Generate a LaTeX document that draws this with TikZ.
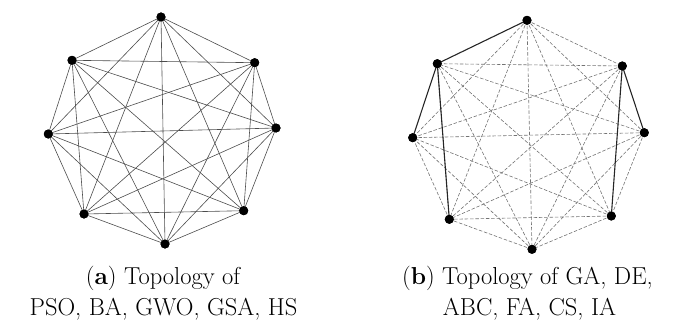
\documentclass[tikz,border=0pt]{standalone}
\begin{document}
\begin{tikzpicture}[x=1pt,y=-1pt,
  dot/.style={circle,fill=black,inner sep=0pt,minimum size=9pt},
  edge/.style={draw=black!70,line width=0.6pt},
  dedge/.style={draw=black!55,line width=0.6pt,dash pattern=on 3.5pt off 1.8pt},
  sedge/.style={draw=black!85,line width=1.1pt},
  captxt/.style={font=\fontsize{24.5}{30}\selectfont,anchor=base,inner sep=0pt}]
\useasboundingbox (0,0) rectangle (676,326);
% left graph
\node[dot] (a1) at (161,17) {};
\node[dot] (a2) at (254.7,62.7) {};
\node[dot] (a3) at (276,128) {};
\node[dot] (a4) at (243.7,210.7) {};
\node[dot] (a5) at (165,244) {};
\node[dot] (a6) at (84,214) {};
\node[dot] (a7) at (48.3,134) {};
\node[dot] (a8) at (72,60.3) {};
\foreach \i in {1,...,8}{
  \foreach \j in {1,...,8}{
    \ifnum\i<\j \draw[edge] (a\i.center) -- (a\j.center); \fi
  }}
% right graph
\node[dot] (b1) at (527,20.3) {};
\node[dot] (b2) at (622.3,66) {};
\node[dot] (b3) at (644.3,132.7) {};
\node[dot] (b4) at (611.3,216) {};
\node[dot] (b5) at (532,249.3) {};
\node[dot] (b6) at (449.3,219.3) {};
\node[dot] (b7) at (412.7,137.7) {};
\node[dot] (b8) at (437.3,63.7) {};
\foreach \i/\j in {1/2,1/3,1/4,1/5,1/6,1/7,2/5,2/6,2/7,2/8,3/4,3/5,3/6,3/7,3/8,4/5,4/6,4/7,4/8,5/6,5/7,5/8,6/7,6/8}{
  \draw[dedge] (b\i.center) -- (b\j.center);
}
\foreach \i/\j in {1/8,8/7,8/6,2/3,2/4}{
  \draw[sedge] (b\i.center) -- (b\j.center);
}
\foreach \i in {1,...,8}{ \fill (a\i) circle (4.5pt); \fill (b\i) circle (4.5pt); }
% captions
\node[captxt] (ca1) at (163,284) {(\textbf{a}) Topology of};
\node[captxt] (ca2) at (163.5,315) {PSO, BA, GWO, GSA, HS};
\node[captxt] (cb1) at (527.5,284) {(\textbf{b}) Topology of GA, DE,};
\node[captxt] (cb2) at (529.5,315) {ABC, FA, CS, IA};
\end{tikzpicture}
\end{document}
